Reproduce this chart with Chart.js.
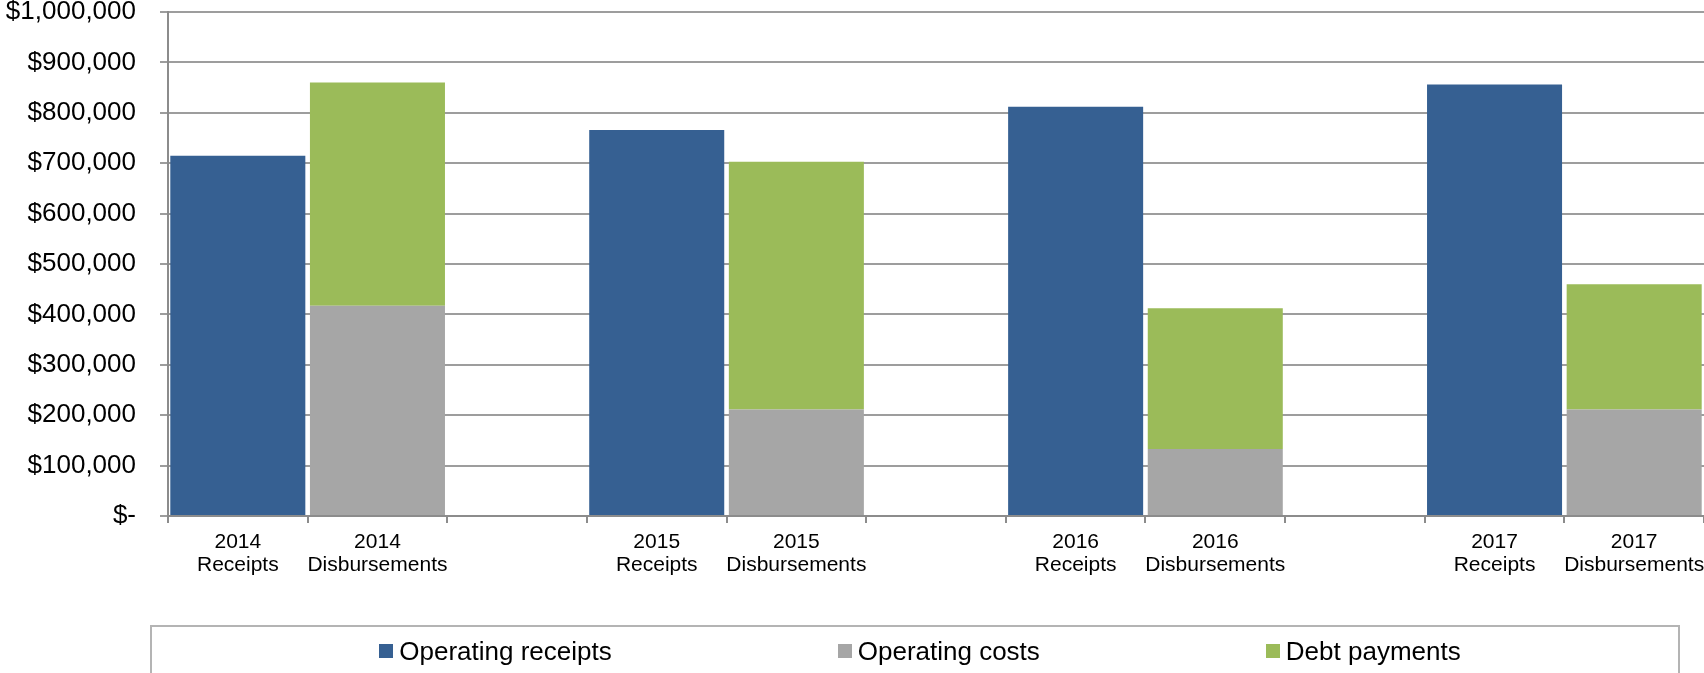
<!DOCTYPE html>
<html>
<head>
<meta charset="utf-8">
<title>Receipts and Disbursements</title>
<script src="https://cdn.jsdelivr.net/npm/chart.js@4.4.1/dist/chart.umd.min.js"></script>
<style>
  html, body { margin: 0; padding: 0; background: #fff; }
  #wrap { position: relative; width: 1704px; height: 673px; overflow: hidden; }
  #legend {
    position: absolute; left: 150px; top: 625px; width: 1530px; height: 80px;
    box-sizing: border-box; border: 2px solid #b4b4b4;
    display: flex; justify-content: center; gap: 226px;
    padding-top: 11px; padding-left: 10px;
    font-family: "Liberation Sans", Arial, sans-serif; font-size: 26px; color: #000;
  }
  .item { display: flex; align-items: center; height: 26px; white-space: nowrap; }
  .swatch { width: 14px; height: 14px; margin-right: 6px; }
</style>
</head>
<body>
<div id="wrap">
  <canvas id="chart" width="1704" height="673"></canvas>
  <div id="legend"></div>
</div>
<script>
'use strict';

// one slot per bar, blank slots keep the gap between years
var categories = [
    ['2014', 'Receipts'], ['2014', 'Disbursements'], '',
    ['2015', 'Receipts'], ['2015', 'Disbursements'], '',
    ['2016', 'Receipts'], ['2016', 'Disbursements'], '',
    ['2017', 'Receipts'], ['2017', 'Disbursements']
];

var operatingReceipts = [715000, null, null, 766000, null, null, 812000, null, null, 856000, null];
var operatingCosts    = [null, 417000, null, null, 211000, null, null, 133000, null, null, 211000];
var debtPayments      = [null, 443000, null, null, 492000, null, null, 279000, null, null, 249000];

var yMin = 0;
var yMax = 1000000;
var yStep = 100000;

var font = '"Liberation Sans", Arial, sans-serif';

function money(value) {
    if (value === 0) {
        return '$-';
    }
    return '$' + value.toLocaleString('en-US');
}

var ctx = document.getElementById('chart');
var chart = new Chart(ctx, {
    type: 'bar',
    data: {
        labels: categories,
        datasets: [{
            label: 'Operating receipts',
            data: operatingReceipts,
            backgroundColor: '#366092'
        }, {
            label: 'Operating costs',
            data: operatingCosts,
            backgroundColor: '#a6a6a6'
        }, {
            label: 'Debt payments',
            data: debtPayments,
            backgroundColor: '#9bbb59'
        }]
    },
    options: {
        responsive: false,
        animation: false,
        layout: {
            padding: { top: 12, bottom: 89, left: 0, right: 0 }
        },
        datasets: {
            bar: {
                barPercentage: 0.967,
                categoryPercentage: 1,
                borderWidth: 0
            }
        },
        plugins: {
            legend: { display: false },
            tooltip: { enabled: false }
        },
        scales: {
            x: {
                stacked: true,
                offset: true,
                grid: {
                    offset: true,
                    drawOnChartArea: false,
                    drawTicks: true,
                    tickLength: 7,
                    color: '#8c8c8c',
                    lineWidth: 2
                },
                border: { color: '#8c8c8c', width: 2 },
                ticks: {
                    color: '#000',
                    padding: 7,
                    maxRotation: 0,
                    autoSkip: false,
                    font: { family: font, size: 21, lineHeight: 1.12 }
                },
                afterFit: function (scale) {
                    scale.paddingLeft = 0;
                    scale.paddingRight = 0;
                }
            },
            y: {
                stacked: true,
                min: yMin,
                max: yMax,
                grid: {
                    color: '#9d9d9d',
                    lineWidth: 2,
                    tickLength: 8
                },
                border: { color: '#8c8c8c', width: 2 },
                ticks: {
                    stepSize: yStep,
                    color: '#000',
                    padding: 24,
                    font: { family: font, size: 26, lineHeight: 1 },
                    callback: function (value) {
                        return money(value);
                    }
                },
                afterFit: function (scale) {
                    scale.width = 168;
                    scale.paddingTop = 0;
                    scale.paddingBottom = 0;
                }
            }
        }
    }
});

// legend built from the chart's own datasets
var legendBox = document.getElementById('legend');
chart.data.datasets.forEach(function (ds) {
    var item = document.createElement('div');
    item.className = 'item';
    var swatch = document.createElement('span');
    swatch.className = 'swatch';
    swatch.style.background = ds.backgroundColor;
    var text = document.createElement('span');
    text.textContent = ds.label;
    item.appendChild(swatch);
    item.appendChild(text);
    legendBox.appendChild(item);
});
</script>
</body>
</html>
